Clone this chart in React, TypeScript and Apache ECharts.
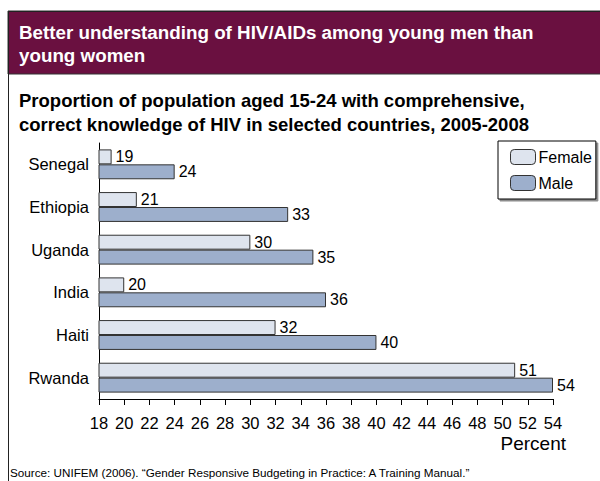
import React, { useEffect, useRef } from "react";
import * as echarts from "echarts";

// Countries listed top to bottom
const countries = ["Senegal", "Ethiopia", "Uganda", "India", "Haiti", "Rwanda"];
// Percent of 15-24 year olds with comprehensive, correct HIV knowledge
const female = [19, 21, 30, 20, 32, 51];
const male = [24, 33, 35, 36, 40, 54];
const seriesNames = ["Female", "Male"];

const axisMin = 18;
const axisMax = 54;
const axisStep = 2;

const FONT = "Liberation Sans, Arial, sans-serif";
const HEADER = "#6A1040";
const FEMALE_FILL = "#DEE4EE";
const MALE_FILL = "#9DAFCC";
const EDGE = "#333333";

export default function App() {
  const ref = useRef<HTMLDivElement>(null);

  useEffect(() => {
    if (!ref.current) return;
    const chart = echarts.init(ref.current, null, { renderer: "svg" });

    const label = {
      show: true,
      position: "right" as const,
      distance: 4,
      color: "#000",
      fontSize: 16,
      fontFamily: FONT,
    };

    chart.setOption({
      animation: false,
      backgroundColor: "#fff",
      textStyle: { fontFamily: FONT },
      grid: { left: 99, right: 47, top: 143, bottom: 82 },
      legend: {
        data: seriesNames,
        orient: "vertical",
        left: 498,
        top: 141,
        itemWidth: 25,
        itemHeight: 15,
        itemGap: 10,
        padding: [8, 4, 8, 12],
        borderColor: "#000",
        borderWidth: 1,
        backgroundColor: "#fff",
        shadowColor: "rgba(0,0,0,0.45)",
        shadowOffsetX: 2,
        shadowOffsetY: 2,
        shadowBlur: 0,
        itemStyle: { borderColor: EDGE, borderWidth: 1 },
        textStyle: { fontSize: 16, color: "#000", fontFamily: FONT, padding: [0, 0, 0, -2] },
      },
      xAxis: {
        type: "value",
        min: axisMin,
        max: axisMax,
        interval: axisStep,
        splitLine: { show: false },
        axisLine: { show: true, lineStyle: { color: "#000", width: 1 } },
        axisTick: { show: true, length: 6, lineStyle: { color: "#000" } },
        axisLabel: { fontSize: 16.5, color: "#000", margin: 15, fontFamily: FONT },
      },
      yAxis: {
        type: "category",
        data: countries,
        inverse: true,
        axisLine: { show: true, lineStyle: { color: "#000", width: 1 } },
        axisTick: { show: false },
        axisLabel: { fontSize: 16.5, color: "#000", margin: 10, fontFamily: FONT },
      },
      series: [
        {
          name: seriesNames[0],
          type: "bar",
          data: female,
          barGap: "0%",
          barCategoryGap: "30%",
          itemStyle: { color: FEMALE_FILL, borderColor: EDGE, borderWidth: 1 },
          label,
        },
        {
          name: seriesNames[1],
          type: "bar",
          data: male,
          itemStyle: { color: MALE_FILL, borderColor: EDGE, borderWidth: 1 },
          label,
        },
      ],
      graphic: [
        // outer frame
        {
          type: "rect",
          shape: { x: 8.5, y: 11.5, width: 600, height: 480 },
          style: { fill: "none", stroke: "#222", lineWidth: 1 },
          z: 10,
        },
        // header band
        {
          type: "rect",
          shape: { x: 8, y: 11, width: 600, height: 63 },
          style: { fill: HEADER, stroke: "#333", lineWidth: 1 },
        },
        {
          type: "text",
          x: 19,
          y: 21,
          style: {
            text: "Better understanding of HIV/AIDs among young men than\nyoung women",
            fill: "#fff",
            font: `bold 18.8px ${FONT}`,
            lineHeight: 23,
          },
        },
        {
          type: "text",
          x: 19,
          y: 88,
          style: {
            text: "Proportion of population aged 15-24 with comprehensive,\ncorrect knowledge of HIV in selected countries, 2005-2008",
            fill: "#000",
            font: `bold 18.5px ${FONT}`,
            lineHeight: 24,
          },
        },
        {
          type: "text",
          x: 566,
          y: 443,
          style: {
            text: "Percent",
            fill: "#000",
            font: `19px ${FONT}`,
            align: "right",
            verticalAlign: "middle",
          },
        },
        {
          type: "text",
          x: 10,
          y: 472,
          style: {
            text: "Source: UNIFEM (2006). \u201CGender Responsive Budgeting in Practice: A Training Manual.\u201D",
            fill: "#000",
            font: `11.7px ${FONT}`,
            verticalAlign: "middle",
          },
        },
      ],
    });

    return () => chart.dispose();
  }, []);

  return (
    <div
      ref={ref}
      style={{ position: "fixed", left: 0, top: 0, width: 600, height: 481 }}
    />
  );
}
